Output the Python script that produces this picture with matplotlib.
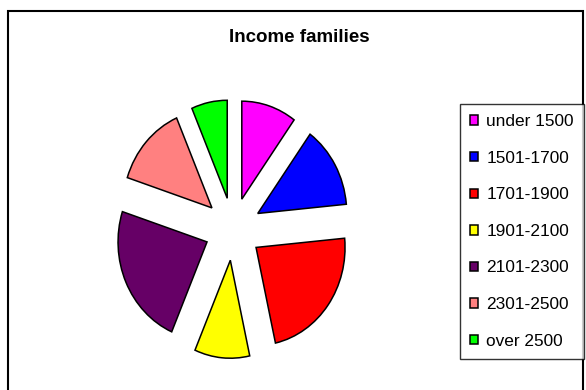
import matplotlib.pyplot as plt
from matplotlib.patches import Rectangle

plt.rcParams['font.family'] = ['Liberation Sans', 'DejaVu Sans']

labels = ['under 1500', '1501-1700', '1701-1900', '1901-2100',
          '2101-2300', '2301-2500', 'over 2500']
shares = [10, 13.5, 23, 10, 23.5, 13.5, 6.5]
colors = ['#FF00FF', '#0000FF', '#FF0000', '#FFFF00',
          '#660066', '#FF8080', '#00FF00']

W, H = 586, 390
fig = plt.figure(figsize=(W / 100, H / 100), dpi=100)

# outer chart border (bottom edge runs off the image)
fig.patches.append(Rectangle((8 / W, -0.01), 575 / W, 1.01 - 11 / H,
                             transform=fig.transFigure, fill=False,
                             edgecolor='black', linewidth=1.5))

# pie area, slightly taller than wide
cx, cy, half = 233, 229, 130
rx, ry = 89, 98
ax = fig.add_axes([(cx - half) / W, 1 - (cy + half) / H, 2 * half / W, 2 * half / H])
wedges, _ = ax.pie(shares, colors=colors, startangle=90, counterclock=False,
                   explode=[0.32] * len(shares),
                   wedgeprops=dict(edgecolor='black', linewidth=1.1))
ax.set_aspect('auto')
ax.set_xlim(-half / rx, half / rx)
ax.set_ylim(-half / ry, half / ry)
ax.axis('off')

fig.text(299 / W, 1 - 38 / H, 'Income families', ha='center', va='center',
         fontsize=13.5, fontweight='bold')

fs = 12.4
leg = fig.legend(wedges, labels, loc='upper left',
                 bbox_to_anchor=(460 / W, 1 - 104 / H),
                 fontsize=fs, frameon=True, fancybox=False, shadow=False,
                 edgecolor='black', handlelength=0.47, handleheight=0.47,
                 handletextpad=0.45, labelspacing=1.25, borderpad=0.6,
                 borderaxespad=0)
leg.get_frame().set_linewidth(1.0)

fig.savefig('out.png', dpi=100)
